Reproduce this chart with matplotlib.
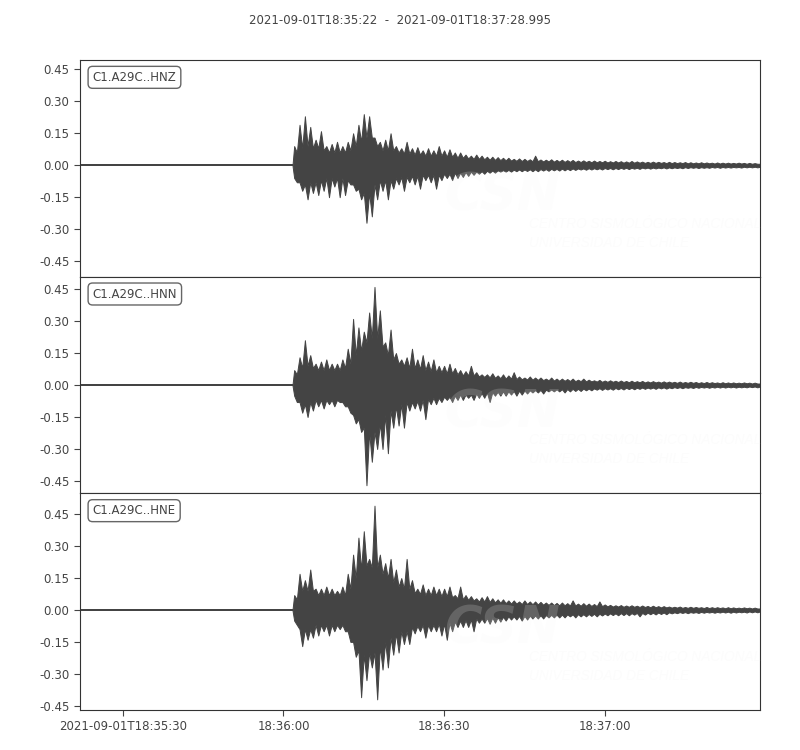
import numpy as np
import matplotlib
matplotlib.use("Agg")
import matplotlib.pyplot as plt

# seconds after 2021-09-01T18:35:22
title = "2021-09-01T18:35:22  -  2021-09-01T18:37:28.995"
trace_end = 126.995
onset = 39.7
noise = 0.004
env_start = 40  # first sample, one per second after that

channels = ["C1.A29C..HNZ", "C1.A29C..HNN", "C1.A29C..HNE"]

# peak (spike) amplitudes per second
hnz_upper = [0.09, 0.19, 0.23, 0.18, 0.12, 0.16, 0.09, 0.10, 0.11, 0.09,
             0.11, 0.15, 0.19, 0.24, 0.23, 0.13, 0.11, 0.12, 0.15, 0.09,
             0.08, 0.11, 0.08, 0.085, 0.07, 0.08, 0.07, 0.09, 0.07, 0.075,
             0.06, 0.06, 0.05, 0.045, 0.05, 0.045, 0.04, 0.04, 0.038, 0.035,
             0.035, 0.03, 0.032, 0.03, 0.028, 0.045, 0.027, 0.026, 0.028, 0.025,
             0.026, 0.024, 0.025, 0.022, 0.023, 0.021, 0.022, 0.02, 0.021, 0.019,
             0.02, 0.019, 0.018, 0.02, 0.018, 0.017, 0.016, 0.017, 0.016, 0.015,
             0.016, 0.015, 0.014, 0.015, 0.014, 0.013, 0.014, 0.013, 0.012, 0.013,
             0.012, 0.012, 0.011, 0.012, 0.011, 0.011, 0.010]
hnz_lower = [-0.08, -0.12, -0.16, -0.13, -0.14, -0.12, -0.15, -0.10, -0.15, -0.14,
             -0.09, -0.12, -0.16, -0.27, -0.24, -0.16, -0.12, -0.16, -0.11, -0.09,
             -0.12, -0.08, -0.09, -0.11, -0.07, -0.08, -0.11, -0.07, -0.06, -0.07,
             -0.06, -0.055, -0.05, -0.045, -0.04, -0.04, -0.035, -0.035, -0.03, -0.03,
             -0.03, -0.028, -0.028, -0.027, -0.028, -0.028, -0.025, -0.026, -0.024, -0.025,
             -0.024, -0.023, -0.022, -0.02, -0.021, -0.02, -0.019, -0.02, -0.018, -0.019,
             -0.018, -0.017, -0.018, -0.016, -0.017, -0.015, -0.016, -0.015, -0.014, -0.015,
             -0.014, -0.013, -0.014, -0.013, -0.012, -0.013, -0.012, -0.012, -0.011, -0.012,
             -0.011, -0.011, -0.010, -0.011, -0.010, -0.010, -0.010]
# solid core half-width per second
hnz_body = [0.06, 0.08, 0.09, 0.08, 0.08, 0.07, 0.06, 0.06, 0.06, 0.06,
            0.07, 0.09, 0.11, 0.13, 0.13, 0.09, 0.07, 0.07, 0.07, 0.06,
            0.055, 0.055, 0.05, 0.05, 0.045, 0.045, 0.045, 0.045, 0.04, 0.04,
            0.035, 0.035, 0.032, 0.03, 0.03, 0.028, 0.026, 0.025, 0.024, 0.023,
            0.022, 0.021, 0.02, 0.02, 0.019, 0.019, 0.018, 0.018, 0.017, 0.017,
            0.016, 0.016, 0.015, 0.015, 0.015, 0.014, 0.014, 0.014, 0.013, 0.013,
            0.013, 0.012, 0.012, 0.012, 0.012, 0.011, 0.011, 0.011, 0.011, 0.010,
            0.010, 0.010, 0.010, 0.009, 0.009, 0.009, 0.009, 0.009, 0.008, 0.008,
            0.008, 0.008, 0.008, 0.008, 0.007, 0.007, 0.007]

hnn_upper = [0.07, 0.13, 0.21, 0.14, 0.10, 0.11, 0.12, 0.10, 0.10, 0.12,
             0.17, 0.31, 0.27, 0.25, 0.34, 0.46, 0.35, 0.20, 0.26, 0.15,
             0.12, 0.13, 0.17, 0.12, 0.14, 0.11, 0.12, 0.09, 0.09, 0.10,
             0.08, 0.07, 0.065, 0.09, 0.06, 0.05, 0.05, 0.055, 0.045, 0.05,
             0.045, 0.06, 0.04, 0.035, 0.04, 0.035, 0.035, 0.03, 0.035, 0.03,
             0.03, 0.028, 0.03, 0.025, 0.03, 0.025, 0.022, 0.024, 0.021, 0.022,
             0.02, 0.021, 0.019, 0.02, 0.018, 0.019, 0.017, 0.018, 0.016, 0.017,
             0.016, 0.015, 0.016, 0.014, 0.015, 0.014, 0.013, 0.014, 0.013, 0.012,
             0.013, 0.012, 0.012, 0.011, 0.012, 0.011, 0.011]
hnn_lower = [-0.08, -0.13, -0.15, -0.12, -0.10, -0.11, -0.09, -0.10, -0.08, -0.10,
             -0.13, -0.18, -0.22, -0.47, -0.36, -0.30, -0.30, -0.32, -0.20, -0.19,
             -0.20, -0.12, -0.11, -0.12, -0.16, -0.09, -0.09, -0.08, -0.07, -0.08,
             -0.07, -0.07, -0.06, -0.07, -0.06, -0.06, -0.08, -0.05, -0.05, -0.05,
             -0.045, -0.05, -0.045, -0.04, -0.035, -0.035, -0.04, -0.03, -0.03, -0.03,
             -0.035, -0.03, -0.028, -0.028, -0.025, -0.025, -0.022, -0.023, -0.021, -0.022,
             -0.02, -0.021, -0.019, -0.02, -0.018, -0.018, -0.017, -0.018, -0.016, -0.017,
             -0.015, -0.014, -0.015, -0.013, -0.014, -0.013, -0.012, -0.013, -0.012, -0.012,
             -0.012, -0.011, -0.012, -0.011, -0.011, -0.010, -0.011]
hnn_body = [0.05, 0.08, 0.09, 0.08, 0.07, 0.07, 0.07, 0.07, 0.07, 0.08,
            0.10, 0.14, 0.16, 0.20, 0.22, 0.22, 0.18, 0.14, 0.12, 0.10,
            0.09, 0.08, 0.08, 0.075, 0.07, 0.065, 0.06, 0.06, 0.055, 0.055,
            0.05, 0.045, 0.045, 0.045, 0.04, 0.038, 0.036, 0.034, 0.032, 0.03,
            0.03, 0.028, 0.027, 0.026, 0.025, 0.024, 0.023, 0.022, 0.021, 0.02,
            0.02, 0.019, 0.018, 0.018, 0.017, 0.017, 0.016, 0.015, 0.015, 0.015,
            0.014, 0.014, 0.013, 0.013, 0.013, 0.012, 0.012, 0.012, 0.011, 0.011,
            0.011, 0.010, 0.010, 0.010, 0.010, 0.009, 0.009, 0.009, 0.009, 0.008,
            0.008, 0.008, 0.008, 0.008, 0.008, 0.007, 0.007]

hne_upper = [0.07, 0.17, 0.14, 0.19, 0.10, 0.10, 0.11, 0.10, 0.09, 0.11,
             0.17, 0.26, 0.34, 0.37, 0.24, 0.49, 0.26, 0.22, 0.24, 0.19,
             0.15, 0.24, 0.14, 0.10, 0.12, 0.10, 0.11, 0.10, 0.10, 0.11,
             0.07, 0.11, 0.07, 0.065, 0.055, 0.06, 0.065, 0.055, 0.05, 0.05,
             0.045, 0.045, 0.04, 0.045, 0.04, 0.04, 0.038, 0.035, 0.035, 0.033,
             0.035, 0.032, 0.045, 0.03, 0.032, 0.03, 0.028, 0.04, 0.026, 0.024,
             0.022, 0.023, 0.021, 0.022, 0.02, 0.021, 0.019, 0.02, 0.018, 0.018,
             0.016, 0.015, 0.016, 0.014, 0.015, 0.014, 0.013, 0.014, 0.013, 0.013,
             0.012, 0.013, 0.012, 0.011, 0.012, 0.011, 0.011]
hne_lower = [-0.07, -0.17, -0.14, -0.13, -0.12, -0.10, -0.12, -0.10, -0.09, -0.10,
             -0.15, -0.22, -0.41, -0.33, -0.27, -0.42, -0.28, -0.27, -0.21, -0.20,
             -0.16, -0.16, -0.11, -0.10, -0.13, -0.10, -0.10, -0.12, -0.14, -0.10,
             -0.08, -0.08, -0.08, -0.10, -0.06, -0.06, -0.065, -0.06, -0.055, -0.05,
             -0.045, -0.045, -0.05, -0.045, -0.04, -0.04, -0.04, -0.035, -0.035, -0.035,
             -0.035, -0.03, -0.035, -0.03, -0.03, -0.028, -0.03, -0.026, -0.025, -0.024,
             -0.025, -0.024, -0.025, -0.022, -0.03, -0.022, -0.02, -0.021, -0.019, -0.02,
             -0.016, -0.015, -0.014, -0.015, -0.013, -0.014, -0.013, -0.012, -0.013, -0.012,
             -0.012, -0.013, -0.012, -0.011, -0.012, -0.011, -0.011]
hne_body = [0.05, 0.09, 0.09, 0.09, 0.07, 0.07, 0.07, 0.07, 0.07, 0.07,
            0.10, 0.15, 0.19, 0.21, 0.20, 0.20, 0.17, 0.15, 0.13, 0.11,
            0.10, 0.10, 0.08, 0.075, 0.07, 0.07, 0.07, 0.065, 0.065, 0.06,
            0.055, 0.05, 0.048, 0.045, 0.04, 0.04, 0.038, 0.036, 0.034, 0.032,
            0.03, 0.03, 0.028, 0.028, 0.027, 0.026, 0.025, 0.024, 0.023, 0.022,
            0.022, 0.021, 0.021, 0.02, 0.02, 0.019, 0.018, 0.018, 0.017, 0.016,
            0.016, 0.015, 0.015, 0.015, 0.014, 0.014, 0.013, 0.013, 0.012, 0.012,
            0.011, 0.011, 0.010, 0.010, 0.010, 0.010, 0.009, 0.009, 0.009, 0.009,
            0.008, 0.008, 0.008, 0.008, 0.008, 0.007, 0.007]

uppers = [hnz_upper, hnn_upper, hne_upper]
lowers = [hnz_lower, hnn_lower, hne_lower]
bodies = [hnz_body, hnn_body, hne_body]
ylims = [(-0.523, 0.494), (-0.508, 0.508), (-0.47, 0.548)]

yticks = [-0.45, -0.30, -0.15, 0.00, 0.15, 0.30, 0.45]
xticks = [8, 38, 68, 98]
xtick_labels = ["2021-09-01T18:35:30", "18:36:00", "18:36:30", "18:37:00"]

col = "#444444"
plt.rcParams["font.family"] = "DejaVu Sans"

fig = plt.figure(figsize=(8, 7.5), dpi=100)
top, bottom = 1 - 60 / 750, 1 - 710 / 750
h = (top - bottom) / 3
axes = []
for i in range(3):
    ax = fig.add_axes([0.1, top - (i + 1) * h, 0.85, h])
    axes.append(ax)

for i, ax in enumerate(axes):
    up = np.array(uppers[i])
    lo = np.array(lowers[i])
    body = np.array(bodies[i])
    ts = env_start + np.arange(len(up))

    # quiet part before the first arrival
    ax.fill_between([0, onset], [-noise, -noise], [noise, noise], color=col, lw=0)

    # outline: peaks at whole seconds on top, at half seconds below,
    # falling back to the solid core in between
    tt = np.empty(2 * len(ts))
    tt[0::2] = ts
    tt[1::2] = ts + 0.5
    top_edge = np.empty(2 * len(ts))
    top_edge[0::2] = up
    top_edge[1::2] = body
    bot_edge = np.empty(2 * len(ts))
    bot_edge[0::2] = -body
    bot_edge[1::2] = lo
    tt = np.concatenate([[onset], tt, [trace_end]])
    top_edge = np.concatenate([[noise], top_edge, [body[-1]]])
    bot_edge = np.concatenate([[-noise], bot_edge, [-body[-1]]])
    ax.fill_between(tt, bot_edge, top_edge, color=col, lw=0.7, edgecolor=col)

    # faint watermark
    ax.text(0.62, 0.305, "CSN", transform=ax.transAxes, ha="center", va="baseline",
            fontsize=37, fontweight="bold", style="italic", color="#f6f6f6",
            alpha=0.18, zorder=5)
    ax.text(0.66, 0.245, "CENTRO SISMOLÓGICO NACIONAL", transform=ax.transAxes,
            ha="left", va="center", fontsize=9.8, style="italic", color="#f6f6f6",
            alpha=0.3, zorder=5, family="Liberation Sans")
    ax.text(0.66, 0.157, "UNIVERSIDAD DE CHILE", transform=ax.transAxes,
            ha="left", va="center", fontsize=9.8, style="italic", color="#f6f6f6",
            alpha=0.3, zorder=5, family="Liberation Sans")

    ax.text(0.0185, 0.95, channels[i], transform=ax.transAxes, ha="left", va="top",
            fontsize=8.5, color=col, zorder=6,
            bbox=dict(boxstyle="round,pad=0.38", fc="white", ec="#666666", lw=1))

    ax.set_xlim(0, trace_end)
    ax.set_ylim(*ylims[i])
    ax.set_yticks(yticks)
    ax.set_yticklabels(["%.2f" % v for v in yticks])
    ax.tick_params(axis="y", direction="out", length=4, colors=col, labelsize=8.5)
    for s in ax.spines.values():
        s.set_color("#333333")
    if i < 2:
        ax.set_xticks([])
    else:
        ax.set_xticks(xticks)
        ax.set_xticklabels(xtick_labels)
        ax.tick_params(axis="x", direction="out", length=4, colors=col, labelsize=8.5)

fig.text(0.5, 1 - 20 / 750, title, ha="center", va="center", fontsize=8.5, color=col)

fig.savefig("out.png", dpi=100)
